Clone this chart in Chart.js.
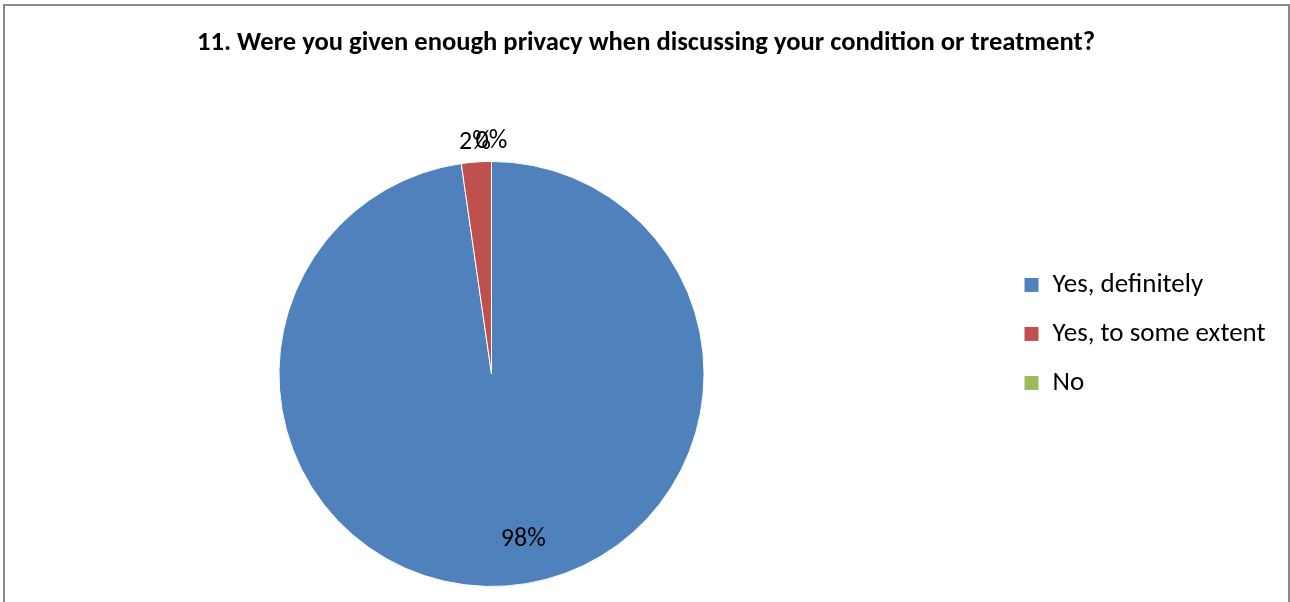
<!DOCTYPE html>
<html>
<head>
<meta charset="utf-8">
<script src="https://cdn.jsdelivr.net/npm/chart.js@4/dist/chart.umd.min.js"></script>
<style>
  html, body { margin: 0; padding: 0; background: #ffffff; overflow: hidden; width: 1290px; height: 602px; }
  #frame { position: absolute; left: 3px; top: 4px; width: 1283px; height: 700px; border: 2px solid #898989; box-sizing: content-box; }
  #wrap { position: absolute; left: -19px; top: 0; width: 1330px; height: 602px; }
</style>
</head>
<body>
<div id="frame"></div>
<div id="wrap"><canvas id="c" width="1330" height="602"></canvas></div>
<script>
// ---- data ----
const chartTitle = '11. Were you given enough privacy when discussing your condition or treatment?';
const categories = ['Yes, definitely', 'Yes, to some extent', 'No'];
const responses = [43, 1, 0];
const sliceColors = ['#4F81BD', '#C0504D', '#9BBB59'];

const FONT = 'Carlito, Lato, "Open Sans", sans-serif';

// percentage labels drawn from the arcs' own geometry
const pctLabels = {
  id: 'pctLabels',
  afterDatasetsDraw(chart, args, opts) {
    const ctx = chart.ctx;
    const meta = chart.getDatasetMeta(0);
    const data = chart.data.datasets[0].data;
    const total = data.reduce((a, b) => a + b, 0);
    ctx.save();
    ctx.font = opts.size + 'px ' + FONT;
    ctx.fillStyle = '#000';
    ctx.textAlign = 'center';
    ctx.textBaseline = 'middle';
    meta.data.forEach((arc, i) => {
      const p = arc.getProps(['x', 'y', 'startAngle', 'endAngle', 'outerRadius'], true);
      const mid = (p.startAngle + p.endAngle) / 2;
      const pct = Math.round(data[i] / total * 100);
      let r, dx = 0;
      if (pct >= 10) { r = p.outerRadius * opts.insideFrac; dx = opts.insideShiftX; }
      else { r = p.outerRadius + opts.outsideGap; }
      ctx.fillText(pct + '%', p.x + Math.cos(mid) * r + dx, p.y + Math.sin(mid) * r);
    });
    ctx.restore();
  }
};

// fixed legend box width so the pie and legend sit where the reference has them
const legendBox = {
  id: 'legendBox',
  beforeLayout(chart, args, opts) {
    const lg = chart.legend;
    if (lg && !lg._fixedW) {
      const fit = lg.fit.bind(lg);
      lg.fit = function () { fit(); this.width = opts.width; };
      lg._fixedW = true;
    }
  }
};

new Chart(document.getElementById('c'), {
  type: 'pie',
  data: {
    labels: categories,
    datasets: [{
      data: responses,
      backgroundColor: sliceColors,
      borderColor: '#ffffff',
      borderWidth: 1
    }]
  },
  plugins: [pctLabels, legendBox],
  options: {
    responsive: false,
    animation: false,
    layout: { padding: { left: 0, right: 0, top: 0, bottom: 15 } },
    plugins: {
      tooltip: { enabled: false },
      title: {
        display: true,
        text: chartTitle,
        color: '#000',
        font: { family: FONT, size: 26.6, weight: 'bold', lineHeight: 1.2 },
        padding: { top: 27, bottom: 102 }
      },
      legend: {
        position: 'right',
        align: 'start',
        fullSize: false,
        title: { display: true, text: '', font: { size: 10, lineHeight: 1.2 }, padding: { top: 0, bottom: 76.5 } },
        labels: {
          color: '#000',
          font: { family: FONT, size: 27 },
          boxWidth: 15,
          boxHeight: 15,
          padding: 22
        }
      },
      legendBox: { width: 309 },
      pctLabels: { size: 26, insideFrac: 0.78, insideShiftX: 20, outsideGap: 20 }
    }
  }
});
</script>
</body>
</html>
